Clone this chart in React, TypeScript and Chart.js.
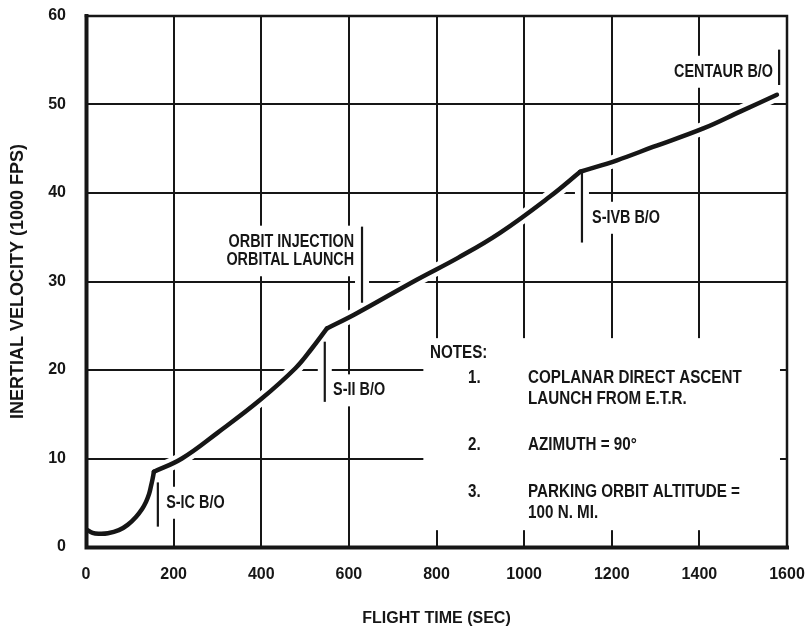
import React, { useEffect, useRef } from 'react';
import { Chart, registerables } from 'chart.js';

Chart.register(...registerables);

const FONT = '"Liberation Sans", Arial, sans-serif';
const INK = '#161616';

// ---- Data (flight time in sec, inertial velocity in 1000 fps) ----
const sicPhaseTime = [0, 15, 30, 50, 75, 95, 114, 128, 137, 144, 148, 152, 155];
const sicPhaseVelocity = [2.0, 1.6, 1.5, 1.55, 1.9, 2.5, 3.4, 4.3, 5.1, 6.0, 6.8, 7.7, 8.5];

const siiPhaseTime = [155, 219, 300, 397, 478, 515, 550];
const siiPhaseVelocity = [8.5, 10.0, 12.9, 16.6, 20.2, 22.4, 24.7];

const sivbPhaseTime = [550, 614, 755, 850, 945, 1059, 1128];
const sivbPhaseVelocity = [24.7, 26.3, 30.2, 32.7, 35.5, 39.6, 42.4];

const centaurPhaseTime = [1128, 1212, 1294, 1409, 1493, 1577];
const centaurPhaseVelocity = [42.4, 43.7, 45.2, 47.3, 49.2, 51.1];

const phaseTimes = [sicPhaseTime, siiPhaseTime, sivbPhaseTime, centaurPhaseTime];
const phaseVelocities = [sicPhaseVelocity, siiPhaseVelocity, sivbPhaseVelocity, centaurPhaseVelocity];

// Axis ranges / ticks
const xRange = [0, 1600];
const xStep = 200;
const yRange = [0, 60];
const yStep = 10;

// Event markers (vertical bars)
const markerTimes = [164, 545, 630, 1132, 1582];
const markerLow = [2.3, 16.4, 27.6, 34.4, 52.2];
const markerHigh = [7.3, 23.2, 36.2, 42.4, 56.2];

// Event labels
const eventLabels = ['S-IC B/O', 'S-II B/O', 'ORBIT INJECTION', 'ORBITAL LAUNCH', 'S-IVB B/O', 'CENTAUR B/O'];
const eventLabelTimes = [183, 564, 612, 612, 1155, 1568];
const eventLabelVelocities = [5.0, 17.7, 34.5, 32.4, 37.2, 53.7];
const eventLabelAnchors = ['left', 'left', 'right', 'right', 'left', 'right'];

// Notes block
const notesTitle = 'NOTES:';
const notesTitleAt = [785, 21.9];
const noteNumbers = ['1.', '2.', '3.'];
const noteLines = [
  ['COPLANAR DIRECT ASCENT', 'LAUNCH FROM E.T.R.'],
  ['AZIMUTH = 90°'],
  ['PARKING ORBIT ALTITUDE =', '100 N. MI.'],
];
const noteNumberTime = 872;
const noteTextTime = 1009;
const noteVelocities = [19.1, 11.5, 6.2];
const noteLineStep = 2.3;
const notesBoxTime = [770, 1584];
const notesBoxVelocity = [1.9, 23.6];

const LABEL_FONT = `bold 18px ${FONT}`;
const NOTE_FONT = `bold 19px ${FONT}`;
const NARROW = 0.8;

function drawNarrow(ctx: CanvasRenderingContext2D, text: string, x: number, y: number, align: CanvasTextAlign) {
  ctx.save();
  ctx.translate(x, y);
  ctx.scale(NARROW, 1);
  ctx.textAlign = align;
  ctx.textBaseline = 'middle';
  ctx.fillText(text, 0, 0);
  ctx.restore();
}

const decorPlugin = {
  id: 'decor',
  beforeDatasetsDraw(chart: any) {
    const { ctx } = chart;
    const xs = chart.scales.x;
    const ys = chart.scales.y;
    ctx.save();
    ctx.fillStyle = '#ffffff';
    const nx0 = xs.getPixelForValue(notesBoxTime[0]);
    const nx1 = xs.getPixelForValue(notesBoxTime[1]);
    const ny0 = ys.getPixelForValue(notesBoxVelocity[1]);
    const ny1 = ys.getPixelForValue(notesBoxVelocity[0]);
    ctx.fillRect(nx0, ny0, nx1 - nx0, ny1 - ny0);
    ctx.font = LABEL_FONT;
    eventLabels.forEach((txt, i) => {
      const px = xs.getPixelForValue(eventLabelTimes[i]);
      const py = ys.getPixelForValue(eventLabelVelocities[i]);
      const w = ctx.measureText(txt).width * NARROW;
      const x0 = eventLabelAnchors[i] === 'left' ? px - 5 : px - w - 5;
      ctx.fillRect(x0, py - 16, w + 10, 32);
    });
    markerTimes.forEach((t, i) => {
      const px = xs.getPixelForValue(t);
      const top = ys.getPixelForValue(markerHigh[i]);
      const bot = ys.getPixelForValue(markerLow[i]);
      ctx.fillRect(px - 7, top, 14, bot - top);
    });
    ctx.restore();
  },
  afterDatasetsDraw(chart: any) {
    const { ctx, chartArea } = chart;
    const xs = chart.scales.x;
    const ys = chart.scales.y;
    ctx.save();
    ctx.strokeStyle = INK;
    ctx.fillStyle = INK;
    ctx.lineWidth = 2.2;
    markerTimes.forEach((t, i) => {
      const px = xs.getPixelForValue(t);
      ctx.beginPath();
      ctx.moveTo(px, ys.getPixelForValue(markerHigh[i]));
      ctx.lineTo(px, ys.getPixelForValue(markerLow[i]));
      ctx.stroke();
    });
    ctx.font = LABEL_FONT;
    eventLabels.forEach((txt, i) => {
      drawNarrow(ctx, txt, xs.getPixelForValue(eventLabelTimes[i]), ys.getPixelForValue(eventLabelVelocities[i]),
        eventLabelAnchors[i] as CanvasTextAlign);
    });
    ctx.font = NOTE_FONT;
    drawNarrow(ctx, notesTitle, xs.getPixelForValue(notesTitleAt[0]), ys.getPixelForValue(notesTitleAt[1]), 'left');
    noteNumbers.forEach((n, i) => {
      const v = noteVelocities[i];
      drawNarrow(ctx, n, xs.getPixelForValue(noteNumberTime), ys.getPixelForValue(v), 'left');
      noteLines[i].forEach((line, j) => {
        drawNarrow(ctx, line, xs.getPixelForValue(noteTextTime), ys.getPixelForValue(v - j * noteLineStep), 'left');
      });
    });
    const { left, right, top, bottom } = chartArea;
    ctx.lineCap = 'square';
    ctx.lineWidth = 2.5;
    ctx.beginPath();
    ctx.moveTo(left, top);
    ctx.lineTo(right, top);
    ctx.lineTo(right, bottom);
    ctx.stroke();
    ctx.lineWidth = 4;
    ctx.beginPath();
    ctx.moveTo(left + 0.5, top);
    ctx.lineTo(left + 0.5, bottom + 0.5);
    ctx.lineTo(right, bottom + 0.5);
    ctx.stroke();
    ctx.restore();
  },
};

export default function App() {
  const canvasRef = useRef<HTMLCanvasElement | null>(null);

  useEffect(() => {
    if (!canvasRef.current) return;
    const toPoints = (ts: number[], vs: number[]) => ts.map((t, i) => ({ x: t, y: vs[i] }));
    const halos = phaseTimes.map((ts, k) => ({
      label: `halo${k}`,
      data: toPoints(ts, phaseVelocities[k]),
      borderColor: '#ffffff',
      borderWidth: 13,
      borderCapStyle: 'round' as const,
      borderJoinStyle: 'round' as const,
      pointRadius: 0,
      tension: 0.4,
      fill: false,
      order: 2,
    }));
    const curves = phaseTimes.map((ts, k) => ({
      label: `phase${k}`,
      data: toPoints(ts, phaseVelocities[k]),
      borderColor: INK,
      borderWidth: 4.5,
      borderCapStyle: 'round' as const,
      borderJoinStyle: 'round' as const,
      pointRadius: 0,
      tension: 0.4,
      fill: false,
      order: 1,
    }));

    const chart = new Chart(canvasRef.current, {
      type: 'line',
      data: { datasets: [...curves, ...halos] },
      plugins: [decorPlugin],
      options: {
        animation: false,
        responsive: false,
        devicePixelRatio: 1,
        layout: { padding: { left: 0, right: 21, top: 16, bottom: 0 } },
        plugins: { legend: { display: false }, tooltip: { enabled: false } },
        scales: {
          x: {
            type: 'linear',
            min: xRange[0],
            max: xRange[1],
            afterFit: (s: any) => { s.height = 83; s.paddingLeft = 0; s.paddingRight = 0; },
            ticks: {
              stepSize: xStep,
              padding: 18,
              color: INK,
              font: { family: FONT, size: 16, weight: 'bold' },
              callback: (v: any) => String(v),
            },
            grid: { color: INK, lineWidth: 2, drawTicks: false },
            border: { display: false },
            title: {
              display: true,
              text: 'FLIGHT TIME (SEC)',
              color: INK,
              font: { family: FONT, size: 16, weight: 'bold' },
              padding: { top: 0, bottom: 2 },
            },
          },
          y: {
            type: 'linear',
            min: yRange[0],
            max: yRange[1],
            afterFit: (s: any) => { s.width = 86; s.paddingTop = 0; s.paddingBottom = 0; },
            ticks: {
              stepSize: yStep,
              padding: 20,
              color: INK,
              font: { family: FONT, size: 16, weight: 'bold' },
              callback: (v: any) => String(v),
            },
            grid: { color: INK, lineWidth: 2, drawTicks: false },
            border: { display: false },
            title: {
              display: true,
              text: 'INERTIAL VELOCITY (1000 FPS)',
              color: INK,
              font: { family: FONT, size: 18, weight: 'bold' },
              padding: { top: 7, bottom: 0 },
            },
          },
        },
      },
    });
    return () => chart.destroy();
  }, []);

  return (
    <div style={{ position: 'fixed', left: 0, top: 0, width: 808, height: 630, background: '#ffffff' }}>
      <canvas ref={canvasRef} width={808} height={630} style={{ display: 'block', width: 808, height: 630 }} />
    </div>
  );
}
